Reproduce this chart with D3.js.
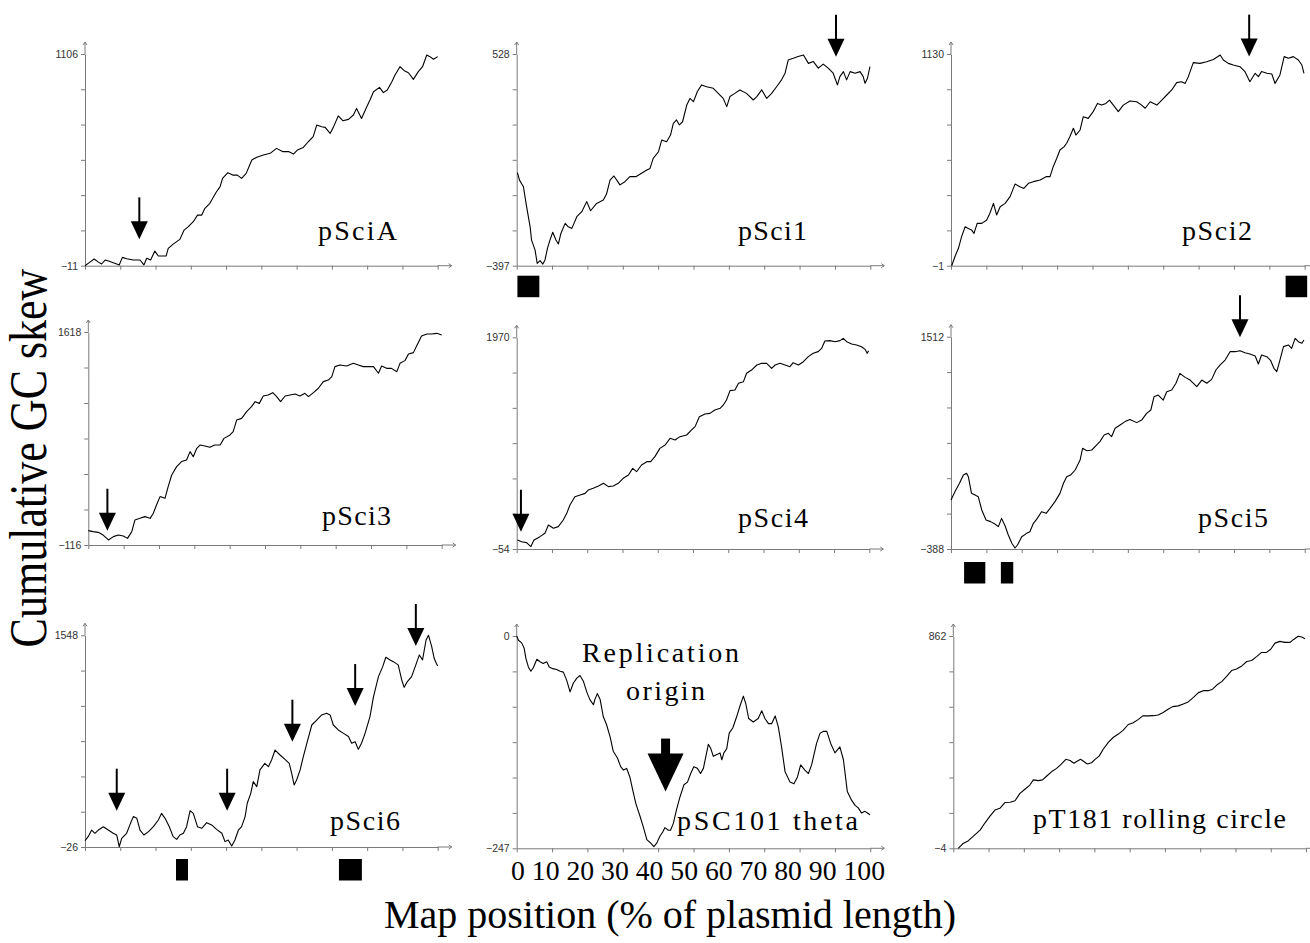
<!DOCTYPE html>
<html>
<head>
<meta charset="utf-8">
<script src="https://cdn.jsdelivr.net/npm/d3@7"></script>
<style>
  body { margin: 0; background: #fff; }
</style>
</head>
<body>
<svg id="chart" width="1310" height="943"></svg>
<script>
// cumulatieve GC skew per plasmide: [positie in %, skew]
const pSciA = [[0,-11],[1.2,5],[2.6,24],[3.8,8],[4.7,-2],[5.7,19],[6.9,12],[8.0,5],[9.0,-2],[9.7,-7],[10.6,33],[11.8,26],[13.7,19],[15.6,19],[16.7,-7],[17.5,28],[18.6,19],[19.8,66],[20.8,40],[23.0,40],[23.6,80],[25.0,103],[26.9,128],[28.1,177],[29.3,195],[30.7,221],[31.9,256],[33.1,256],[34.0,292],[35.4,318],[37.1,374],[38.3,406],[39.0,450],[40.5,480],[41.9,467],[43.2,467],[44.4,450],[45.7,476],[47.3,547],[48.7,561],[50.6,573],[52.5,582],[54.3,608],[56.0,591],[57.7,591],[59.1,578],[60.2,599],[61.9,613],[63.3,643],[64.7,670],[65.7,731],[67.1,722],[68.1,719],[69.5,687],[70.4,719],[71.8,779],[73.1,754],[74.7,761],[76.1,784],[77.0,819],[78.4,766],[79.9,828],[80.8,863],[81.8,907],[83.5,930],[84.6,902],[85.7,916],[87.0,960],[87.9,995],[89.3,1039],[90.5,1018],[91.7,1007],[93.1,972],[94.5,1013],[95.7,1039],[96.9,1101],[97.8,1092],[98.8,1078],[100,1092]];

const pSci1 = [[0.2,10],[0.8,-23],[1.9,-52],[2.8,-139],[3.8,-227],[4.2,-285],[5.2,-329],[5.8,-387],[6.6,-375],[7.4,-390],[8.0,-372],[8.7,-321],[9.4,-285],[10.2,-251],[11.1,-285],[11.8,-302],[12.5,-256],[13.7,-212],[14.6,-227],[15.6,-234],[17.0,-183],[18.4,-161],[19.8,-117],[20.9,-157],[22.6,-125],[24.5,-110],[25.4,-84],[26.4,-23],[27.5,-5],[29.2,-44],[30.6,-30],[32.0,-8],[33.7,-8],[35.3,7],[36.8,21],[37.7,28],[38.6,72],[40.1,101],[41.0,152],[42.4,145],[43.5,174],[44.3,225],[45.2,240],[46.0,218],[46.9,232],[48.1,305],[49.0,334],[50.0,320],[51.1,364],[52.3,393],[53.7,385],[55.6,378],[57.0,356],[58.4,334],[59.4,298],[60.3,342],[61.7,356],[63.1,371],[65.0,356],[66.9,327],[67.9,342],[69.3,371],[70.7,334],[72.1,356],[73.5,385],[74.9,415],[75.9,444],[76.8,502],[78.2,509],[79.6,517],[81.1,524],[82.5,487],[83.9,495],[85.3,466],[86.7,484],[88.1,466],[89.5,444],[90.7,393],[91.4,429],[92.4,451],[93.3,415],[94.3,451],[95.7,444],[97.1,451],[98.0,429],[98.5,400],[99.2,422],[99.9,473]];

const pSci2 = [[0.2,-1],[1.1,47],[2.1,92],[3.0,154],[4.0,207],[4.9,198],[5.8,190],[6.5,172],[7.4,225],[8.7,225],[10.1,243],[11.0,279],[12.0,332],[12.9,270],[13.9,314],[15.3,332],[16.7,368],[18.1,435],[19.5,421],[20.6,412],[21.9,439],[23.3,448],[25.2,457],[27.0,475],[28.0,475],[28.9,528],[29.9,573],[30.8,617],[32.0,635],[32.7,653],[33.6,688],[34.6,733],[35.3,697],[36.5,724],[37.4,795],[38.8,786],[40.2,822],[41.4,866],[42.6,857],[43.8,866],[44.8,884],[45.9,857],[47.3,822],[48.7,857],[50.6,879],[52.5,875],[53.9,857],[54.9,840],[56.3,875],[58.2,857],[59.6,884],[61.0,911],[62.4,938],[63.8,977],[65.2,982],[66.2,973],[67.1,1009],[68.5,1084],[70.4,1080],[72.3,1089],[74.2,1101],[76.1,1125],[77.0,1098],[78.4,1080],[79.8,1071],[81.7,1062],[83.1,1036],[84.5,982],[86.0,1027],[86.9,1009],[87.8,1036],[89.3,1027],[90.7,1023],[91.6,973],[93.0,1018],[94.2,1116],[95.4,1107],[96.8,1116],[98.2,1098],[99.2,1071],[99.8,1027]];

const pSci3 = [[0,1],[1.4,-7],[2.8,-13],[4.2,-35],[5.7,-75],[7.1,-48],[8.5,-35],[9.9,-43],[11.1,-62],[12.3,-7],[13.2,88],[14.6,101],[16.0,115],[17.5,101],[18.4,142],[19.3,210],[20.3,278],[21.7,264],[22.6,359],[23.6,454],[25.0,522],[26.4,563],[27.8,576],[28.8,644],[29.7,603],[30.7,671],[31.6,698],[33.0,690],[34.4,679],[35.8,698],[37.3,698],[38.4,752],[40.1,780],[41.0,807],[42.0,902],[43.4,915],[44.8,970],[46.2,1010],[47.2,1051],[48.4,1037],[49.5,1097],[50.9,1105],[52.2,1124],[53.3,1092],[54.4,1051],[55.7,1097],[57.1,1105],[58.5,1113],[59.9,1097],[61.3,1119],[62.3,1092],[63.7,1124],[65.1,1160],[66.5,1214],[67.9,1227],[68.9,1255],[69.8,1336],[71.2,1350],[73.1,1341],[75.0,1363],[76.4,1350],[77.8,1336],[79.2,1336],[80.7,1336],[82.1,1282],[83.0,1341],[84.4,1322],[85.8,1322],[87.3,1295],[88.2,1363],[89.6,1385],[90.6,1439],[92.0,1450],[92.9,1504],[94.3,1586],[95.8,1602],[97.2,1602],[98.6,1607],[100,1594]];

const pSci4 = [[0.2,32],[1.4,16],[2.8,7],[4.0,-32],[4.9,32],[6.6,64],[8.0,96],[9.0,175],[10.4,144],[11.8,160],[13.2,223],[14.2,287],[15.1,367],[16.5,446],[18.0,462],[19.4,478],[20.3,510],[21.7,526],[23.2,548],[24.6,574],[26.0,542],[27.4,548],[28.8,574],[30.2,622],[31.7,654],[32.9,717],[34.0,685],[35.4,749],[36.9,781],[38.0,781],[39.2,829],[40.6,908],[42.1,940],[43.5,1004],[44.9,988],[46.3,1020],[48.2,1036],[49.6,1084],[50.6,1116],[51.8,1211],[53.4,1237],[54.8,1243],[56.2,1275],[57.7,1291],[58.6,1323],[59.5,1371],[60.5,1460],[61.9,1466],[62.9,1530],[64.3,1546],[65.2,1626],[66.6,1657],[68.1,1705],[69.5,1721],[70.9,1721],[72.3,1673],[73.3,1705],[74.7,1721],[76.1,1705],[77.5,1689],[78.4,1727],[79.9,1705],[81.3,1737],[82.7,1785],[84.1,1817],[85.5,1833],[86.5,1865],[87.4,1935],[88.8,1938],[90.3,1928],[91.7,1938],[92.6,1960],[93.6,1928],[95.0,1906],[96.4,1896],[97.8,1880],[98.8,1855],[99.4,1817],[99.8,1842]];

const pSci5 = [[0,51],[1.1,125],[2.4,200],[3.5,274],[4.4,289],[4.9,259],[5.8,110],[6.8,95],[7.7,80],[8.7,-39],[9.9,-128],[11.2,-143],[12.4,-164],[13.4,-188],[14.3,-114],[15.3,-182],[16.2,-263],[17.2,-337],[18.1,-379],[18.8,-352],[20.0,-278],[21.4,-248],[22.3,-233],[23.3,-158],[24.2,-123],[25.6,-54],[26.9,-69],[28.0,-24],[29.4,36],[30.8,110],[31.8,200],[32.7,259],[33.8,274],[35.1,319],[36.5,408],[37.2,513],[38.4,492],[39.8,498],[41.2,543],[42.1,573],[43.3,632],[44.5,647],[45.4,617],[46.4,692],[47.8,722],[49.2,752],[50.6,772],[52.5,743],[53.9,766],[55.3,826],[56.5,856],[57.4,975],[58.6,990],[60.0,945],[61.0,1020],[62.4,1035],[63.6,1095],[64.7,1184],[66.2,1148],[67.6,1124],[69.5,1065],[70.9,1124],[72.3,1095],[73.7,1130],[74.9,1214],[76.1,1259],[77.5,1303],[78.9,1378],[80.3,1378],[81.7,1387],[83.1,1369],[84.5,1357],[86.0,1339],[86.9,1268],[87.8,1348],[89.3,1333],[90.4,1297],[91.3,1229],[92.1,1199],[93.0,1303],[94.0,1423],[95.4,1438],[96.3,1408],[97.3,1497],[98.2,1467],[99.2,1453],[99.8,1482]];

const pSci6 = [[0,21],[0.9,51],[1.9,100],[2.8,76],[3.8,100],[5.2,125],[6.6,100],[8.0,76],[9.0,63],[9.7,-24],[10.4,38],[11.8,76],[12.9,150],[13.7,200],[14.7,187],[15.6,100],[16.7,63],[18.0,88],[19.4,125],[20.8,175],[21.7,224],[22.7,187],[23.9,125],[25.0,51],[26.0,31],[26.9,63],[27.9,76],[28.8,125],[29.8,244],[30.7,224],[31.9,125],[33.1,113],[34.5,155],[35.9,138],[37.3,105],[38.8,76],[39.7,14],[40.6,26],[41.6,-19],[42.5,26],[43.5,100],[44.4,125],[45.4,200],[46.0,299],[47.0,373],[47.7,460],[48.7,423],[49.6,547],[51.0,596],[52.0,571],[52.9,621],[53.9,695],[55.3,658],[56.7,626],[57.9,596],[58.6,522],[59.3,435],[60.0,472],[61.0,547],[61.9,646],[62.9,745],[64.3,881],[65.7,918],[67.1,956],[68.5,968],[69.5,956],[70.4,881],[71.8,844],[73.3,819],[74.7,795],[75.6,745],[76.6,757],[77.5,700],[78.4,745],[79.4,819],[80.8,943],[81.8,1092],[83.2,1241],[84.4,1315],[85.3,1385],[86.5,1365],[87.4,1352],[88.8,1328],[89.8,1216],[90.5,1161],[91.4,1204],[92.6,1241],[93.8,1328],[94.8,1402],[95.7,1365],[96.7,1513],[97.4,1548],[98.3,1464],[99.0,1377],[99.6,1340],[100,1320]];

const pSC101 = [[0,0],[0.5,-5],[1.4,-8],[2.1,-14],[2.6,-26],[3.3,-36],[4.0,-41],[4.7,-37],[5.7,-27],[6.6,-30],[7.5,-32],[8.5,-30],[9.2,-36],[10.2,-38],[11.3,-39],[12.3,-41],[13.2,-42],[14.1,-51],[15.1,-65],[16.0,-55],[17.0,-49],[17.9,-46],[18.9,-53],[19.8,-65],[20.7,-74],[21.7,-80],[22.1,-74],[22.8,-67],[23.6,-74],[24.5,-94],[25.4,-103],[26.4,-117],[27.3,-134],[28.5,-142],[29.4,-152],[30.2,-156],[31.1,-154],[32.0,-164],[32.8,-179],[33.7,-195],[34.9,-210],[35.8,-222],[36.8,-237],[37.9,-241],[38.8,-245],[39.6,-241],[40.5,-233],[41.3,-228],[41.9,-223],[42.9,-226],[43.5,-226],[44.3,-218],[45.2,-202],[46.2,-187],[47.3,-173],[48.3,-170],[49.2,-160],[50.1,-152],[51.1,-154],[52.0,-160],[52.8,-154],[53.7,-136],[54.2,-126],[54.9,-131],[55.6,-140],[56.6,-138],[57.5,-136],[58.0,-144],[58.6,-136],[59.4,-131],[60.1,-113],[61.1,-107],[62.2,-94],[63.1,-82],[64.1,-70],[64.8,-79],[65.6,-96],[66.9,-100],[68.3,-96],[69.3,-87],[70.2,-96],[71.2,-102],[72.1,-102],[73.1,-93],[74.0,-106],[74.9,-129],[75.9,-158],[77.3,-170],[78.4,-172],[79.4,-164],[80.3,-150],[81.5,-156],[82.5,-160],[83.4,-150],[84.8,-125],[85.8,-113],[86.7,-111],[87.7,-111],[88.8,-125],[90.0,-136],[91.4,-129],[92.4,-144],[93.5,-181],[94.7,-191],[95.7,-197],[96.6,-200],[97.5,-206],[98.5,-204],[99.2,-206],[99.9,-208]];

const pT181 = [[1.4,-4],[2.8,16],[4.3,27],[5.7,46],[7.6,70],[9.0,100],[10.4,127],[11.8,152],[13.2,159],[14.7,183],[16.1,184],[17.5,190],[18.9,220],[20.3,237],[21.7,254],[22.7,275],[24.1,272],[25.3,275],[26.5,291],[27.9,309],[29.3,322],[30.4,336],[31.9,359],[33.1,354],[34.2,343],[35.2,352],[36.1,359],[37.1,349],[38.0,340],[39.2,345],[40.2,359],[41.4,373],[42.5,400],[43.9,427],[45.4,449],[46.8,462],[48.2,478],[49.6,501],[51.0,508],[52.5,522],[53.7,536],[55.3,536],[56.7,537],[58.1,540],[59.5,550],[60.9,563],[62.2,574],[63.8,577],[65.2,585],[66.6,593],[68.1,612],[69.5,631],[70.9,639],[72.3,639],[73.5,645],[74.7,662],[76.1,676],[77.5,697],[78.9,721],[80.3,727],[81.8,740],[83.2,758],[84.6,762],[86.0,778],[87.4,795],[88.8,795],[90.0,808],[91.2,833],[92.6,840],[94.0,836],[95.5,836],[96.4,847],[97.8,861],[98.8,858],[99.7,851]];

// namen en y-bereik (labels onder/boven aan de as)
const plasmidNames = ["pSciA", "pSci1", "pSci2", "pSci3", "pSci4", "pSci5", "pSci6", "pSC101 theta", "pT181 rolling circle"];
const yMin = [-11, -397, -1, -116, -54, -388, -26, -247, -4];
const yMax = [1106, 528, 1130, 1618, 1970, 1512, 1548, 0, 862];

// pijlen: [positie %, skew bij de punt]
const pSciAArrows = [[15.4, 128]];
const pSci1Arrows = [[90.3, 516]];
const pSci2Arrows = [[84.3, 1116]];
const pSci3Arrows = [[5.4, 0]];
const pSci4Arrows = [[1.2, 111]];
const pSci5Arrows = [[81.7, 1507]];
const pSci6Arrows = [[9.0, 244], [40.3, 244], [58.8, 757], [76.6, 1022], [93.8, 1468]];
const originArrow = [[42.1, -181]];

// zwarte blokjes onder de as: [begin %, eind %]
const pSci1Boxes = [[0.2, 6.4]];
const pSci2Boxes = [[94.6, 100.7]];
const pSci5Boxes = [[3.7, 9.7], [14.1, 17.6]];
const pSci6Boxes = [[25.8, 29.2], [72.0, 78.5]];

const xTicks = [0, 10, 20, 30, 40, 50, 60, 70, 80, 90, 100];

const series = [pSciA, pSci1, pSci2, pSci3, pSci4, pSci5, pSci6, pSC101, pT181];
const arrows = [pSciAArrows, pSci1Arrows, pSci2Arrows, pSci3Arrows, pSci4Arrows, pSci5Arrows, pSci6Arrows, [], []];
const boxes = [pSci1Boxes, pSci2Boxes, pSci5Boxes, pSci6Boxes];
const boxPanel = [1, 2, 5, 6];

// plek van elk paneel op de pagina (lx/ly/lw = naamlabel)
const layout = [
  { x: 85, top: 54, bottom: 265.7, w: 352.7, lx: 318, ly: 240, lw: 79, bt: 10 },
  { x: 516.7, top: 54, bottom: 265.7, w: 353.6, lx: 738, ly: 240, lw: 69, bt: 10 },
  { x: 951, top: 54, bottom: 265.7, w: 353.7, lx: 1182, ly: 240, lw: 70, bt: 10 },
  { x: 88.3, top: 332, bottom: 545, w: 353.4, lx: 322, ly: 525, lw: 69, bt: 13 },
  { x: 516.7, top: 337.3, bottom: 549, w: 352.6, lx: 738, ly: 527, lw: 70, bt: 13 },
  { x: 951, top: 336.7, bottom: 549, w: 353.7, lx: 1198, ly: 527, lw: 70, bt: 13 },
  { x: 85, top: 635.3, bottom: 847, w: 352.7, lx: 330, ly: 830, lw: 70, bt: 12 },
  { x: 516.7, top: 636, bottom: 848.3, w: 353.6, lx: 677, ly: 830, lw: 181, bt: 12 },
  { x: 953.3, top: 636, bottom: 848.3, w: 352.7, lx: 1033, ly: 828, lw: 253, bt: 12 },
];

const svg = d3.select("#chart");
const axisColor = "#7a7a7a";
const serif = "'Liberation Serif', 'Times New Roman', serif";

const scales = layout.map((l, i) => {
  const x = d3.scaleLinear().domain([0, 100]).range([l.x, l.x + l.w]);
  const y = d3.scaleLinear().domain([yMin[i], yMax[i]]).range([l.bottom, l.top]);
  return { x, y };
});

layout.forEach((l, i) => {
  const { x, y } = scales[i];
  const g = svg.append("g");

  // y-as: 7 streepjes, alleen de uiterste met een getal
  const yTicks = d3.range(7).map((k) => yMin[i] + (k * (yMax[i] - yMin[i])) / 6);
  const yAxis = g
    .append("g")
    .attr("transform", "translate(" + l.x + ",0)")
    .call(
      d3
        .axisLeft(y)
        .tickValues(yTicks)
        .tickSize(4)
        .tickSizeOuter(0)
        .tickPadding(3)
        .tickFormat((v, k) => (k === 0 || k === 6 ? d3.format("d")(Math.round(v)) : ""))
    );
  yAxis.selectAll("text")
    .attr("font-family", "'Liberation Sans', Arial, sans-serif")
    .attr("font-size", 10.5)
    .attr("fill", "#333");

  // x-as
  g.append("g")
    .attr("transform", "translate(0," + l.bottom + ")")
    .call(d3.axisBottom(x).tickValues(xTicks).tickSize(4).tickSizeOuter(0).tickFormat(""));

  g.selectAll(".domain, .tick line").attr("stroke", axisColor);

  // verlengstukjes met pijltjes
  g.append("line")
    .attr("x1", l.x).attr("x2", l.x)
    .attr("y1", l.top).attr("y2", l.top - 12)
    .attr("stroke", axisColor);
  g.append("path")
    .attr("d", "M" + (l.x - 2) + "," + (l.top - 9) + "L" + l.x + "," + (l.top - 12) + "L" + (l.x + 2) + "," + (l.top - 9))
    .attr("fill", "none").attr("stroke", axisColor);
  g.append("line")
    .attr("x1", l.x + l.w).attr("x2", l.x + l.w + 14)
    .attr("y1", l.bottom).attr("y2", l.bottom)
    .attr("stroke", axisColor);
  g.append("path")
    .attr("d", "M" + (l.x + l.w + 11) + "," + (l.bottom - 2) + "L" + (l.x + l.w + 14) + "," + l.bottom + "L" + (l.x + l.w + 11) + "," + (l.bottom + 2))
    .attr("fill", "none").attr("stroke", axisColor);

  // de lijn zelf
  const line = d3.line().x((d) => x(d[0])).y((d) => y(d[1]));
  g.append("path")
    .datum(series[i])
    .attr("d", line)
    .attr("fill", "none")
    .attr("stroke", "#000")
    .attr("stroke-width", 1.1)
    .attr("stroke-linejoin", "round");

  // kleine pijlen
  g.selectAll(".arrow")
    .data(arrows[i])
    .join("g")
    .attr("class", "arrow")
    .each(function (d) {
      const ax = x(d[0]);
      const ay = y(d[1]);
      const a = d3.select(this);
      a.append("line")
        .attr("x1", ax).attr("x2", ax)
        .attr("y1", ay - 42).attr("y2", ay - 16)
        .attr("stroke", "#000").attr("stroke-width", 2);
      a.append("path")
        .attr("d", "M" + (ax - 8.5) + "," + (ay - 18) + "L" + (ax + 8.5) + "," + (ay - 18) + "L" + ax + "," + ay + "Z")
        .attr("fill", "#000");
    });

  // naam van het plasmide
  g.append("text")
    .attr("x", l.lx)
    .attr("y", l.ly)
    .attr("font-family", serif)
    .attr("font-size", 28)
    .attr("textLength", l.lw)
    .attr("lengthAdjust", "spacing")
    .attr("fill", "#000")
    .text(plasmidNames[i]);
});

// blokjes
boxes.forEach((list, j) => {
  const i = boxPanel[j];
  const l = layout[i];
  const { x } = scales[i];
  svg.append("g")
    .selectAll("rect")
    .data(list)
    .join("rect")
    .attr("x", (d) => x(d[0]))
    .attr("width", (d) => x(d[1]) - x(d[0]))
    .attr("y", l.bottom + l.bt)
    .attr("height", 21.5)
    .attr("fill", "#000");
});

// grote pijl bij het replicatie-origin van pSC101
const sx = scales[7].x;
const sy = scales[7].y;
originArrow.forEach((d) => {
  const ax = sx(d[0]);
  const ay = sy(d[1]);
  svg.append("rect")
    .attr("x", ax - 4.5).attr("width", 9)
    .attr("y", ay - 53).attr("height", 17)
    .attr("fill", "#000");
  svg.append("path")
    .attr("d", "M" + (ax - 18) + "," + (ay - 38) + "L" + (ax + 18) + "," + (ay - 38) + "L" + ax + "," + ay + "Z")
    .attr("fill", "#000");
});

svg.append("text")
  .attr("x", 582).attr("y", 662)
  .attr("font-family", serif).attr("font-size", 28)
  .attr("textLength", 157).attr("lengthAdjust", "spacing")
  .text("Replication");
svg.append("text")
  .attr("x", 626).attr("y", 700)
  .attr("font-family", serif).attr("font-size", 28)
  .attr("textLength", 79).attr("lengthAdjust", "spacing")
  .text("origin");

// getallen onder de pSC101 as: een regel tekst, zoals in het origineel
svg.append("text")
  .attr("x", 511)
  .attr("y", 880)
  .attr("font-family", serif)
  .attr("font-size", 28)
  .attr("textLength", 374)
  .attr("lengthAdjust", "spacingAndGlyphs")
  .text(xTicks.join(" "));

// as-titels
svg.append("text")
  .attr("transform", "translate(46,458) rotate(-90) scale(1,1.18)")
  .attr("text-anchor", "middle")
  .attr("font-family", serif)
  .attr("font-size", 44)
  .text("Cumulative GC skew");

svg.append("text")
  .attr("x", 670).attr("y", 928)
  .attr("text-anchor", "middle")
  .attr("font-family", serif)
  .attr("font-size", 40)
  .text("Map position (% of plasmid length)");
</script>
</body>
</html>
